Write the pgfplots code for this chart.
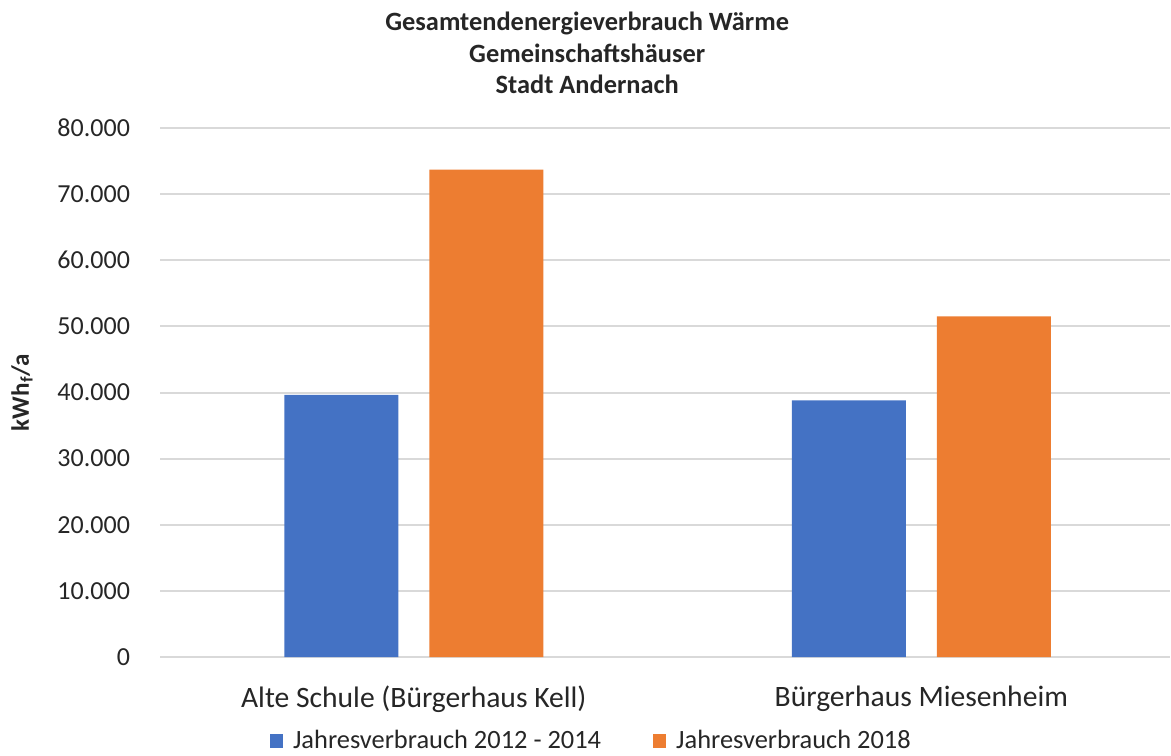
\documentclass[border=0pt]{standalone}
\usepackage{pgfplots}
\pgfplotsset{compat=1.18}
\usepackage{fontspec}
\setmainfont{Carlito}
\definecolor{cblue}{HTML}{4472C4}
\definecolor{corange}{HTML}{ED7D31}
\definecolor{cgrid}{HTML}{D9D9D9}
\begin{document}
\begin{tikzpicture}
\useasboundingbox (0,0) rectangle (585.5pt,377.5pt);
\begin{axis}[
  at={(80pt,49pt)}, anchor=south west,
  scale only axis, width=505pt, height=264.5pt,
  ybar=15.5pt, bar width=57pt,
  xmin=-0.5, xmax=1.49,
  ymin=0, ymax=80000,
  ytick={0,10000,...,80000},
  scaled y ticks=false,
  yticklabel={\pgfmathprintnumber[fixed,1000 sep={.}]{\tick}},
  /pgf/number format/assume math mode=true,
  xtick={0,1},
  xticklabels={Alte Schule (Bürgerhaus Kell), Bürgerhaus Miesenheim},
  major tick length=0pt,
  axis line style={draw=none},
  ymajorgrids, grid style={cgrid, line width=1pt},
  tick label style={font=\fontsize{13}{15}\selectfont, text=black!85},
  xticklabel style={font=\fontsize{14.8}{16}\selectfont, yshift=-11pt},
  yticklabel style={xshift=-11.5pt},
  title={Gesamtendenergieverbrauch Wärme\\Gemeinschaftshäuser\\Stadt Andernach},
  title style={font=\bfseries\fontsize{13.2}{15.75}\selectfont, align=center, at={(axis description cs:0.423,1)}, anchor=center, yshift=31.5pt, text=black!85},
  ylabel={kWh\textsubscript{f}/a},
  ylabel style={font=\bfseries\fontsize{12.5}{15}\selectfont, at={(axis description cs:0,0.5)}, anchor=center, yshift=69pt, text=black!85},
  legend columns=2,
  legend style={draw=none, at={(axis description cs:0.428,0)}, anchor=center, yshift=-42pt,
    font=\fontsize{13.2}{15}\selectfont, text=black!85,
    /tikz/every odd column/.append style={column sep=3pt},
    /tikz/every even column/.append style={column sep=24pt}},
  legend image code/.code={\fill[#1] (0pt,-3.3pt) rectangle (6.6pt,3.3pt);},
]
\addplot[draw=none, fill=cblue] coordinates {(0,39650) (1,38800)};
\addplot[draw=none, fill=corange] coordinates {(0,73700) (1,51500)};
\legend{Jahresverbrauch 2012 - 2014, Jahresverbrauch 2018}
\end{axis}
\end{tikzpicture}
\end{document}
